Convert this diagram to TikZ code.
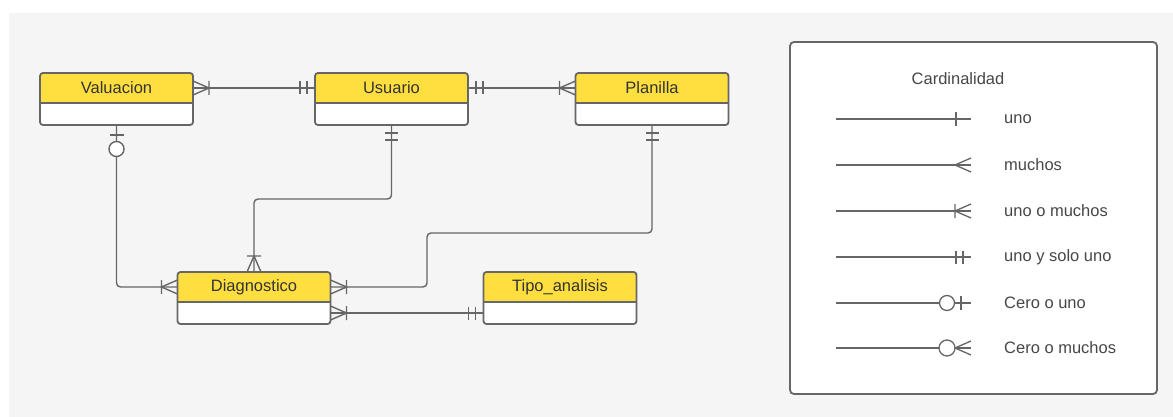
\documentclass[tikz,border=0pt]{standalone}
\usepackage{fontspec}
\setmainfont{Liberation Sans}
\usetikzlibrary{arrows.meta}
\definecolor{bgc}{HTML}{F5F5F5}
\definecolor{hdr}{HTML}{FFDF40}
\definecolor{edgec}{HTML}{666666}
\definecolor{txtc}{HTML}{333333}

% ER cardinality tips (tip at origin, pointing to +x)
\pgfdeclarearrow{
  name = ERone,
  setup code = {
    \pgfarrowssettipend{0pt}
    \pgfarrowssetlineend{0pt}
    \pgfarrowssetbackend{-16pt}
    \pgfarrowsupperhullpoint{0pt}{7pt}
    \pgfarrowsupperhullpoint{-16pt}{7pt}
  },
  drawing code = {
    \pgfpathmoveto{\pgfpoint{-15pt}{-7pt}}
    \pgfpathlineto{\pgfpoint{-15pt}{7pt}}
    \pgfusepathqstroke
  },
}
\pgfdeclarearrow{
  name = ERonlyone,
  setup code = {
    \pgfarrowssettipend{0pt}
    \pgfarrowssetlineend{0pt}
    \pgfarrowssetbackend{-16pt}
    \pgfarrowsupperhullpoint{0pt}{7pt}
    \pgfarrowsupperhullpoint{-16pt}{7pt}
  },
  drawing code = {
    \pgfpathmoveto{\pgfpoint{-8pt}{-6.5pt}}
    \pgfpathlineto{\pgfpoint{-8pt}{6.5pt}}
    \pgfpathmoveto{\pgfpoint{-15pt}{-6.5pt}}
    \pgfpathlineto{\pgfpoint{-15pt}{6.5pt}}
    \pgfusepathqstroke
  },
}
\pgfdeclarearrow{
  name = ERmany,
  setup code = {
    \pgfarrowssettipend{0pt}
    \pgfarrowssetlineend{0pt}
    \pgfarrowssetbackend{-16pt}
    \pgfarrowsupperhullpoint{0pt}{7pt}
    \pgfarrowsupperhullpoint{-16pt}{1pt}
  },
  drawing code = {
    \pgfpathmoveto{\pgfpoint{0pt}{7pt}}
    \pgfpathlineto{\pgfpoint{-16pt}{0pt}}
    \pgfpathlineto{\pgfpoint{0pt}{-7pt}}
    \pgfusepathqstroke
  },
}
\pgfdeclarearrow{
  name = ERoneormany,
  setup code = {
    \pgfarrowssettipend{0pt}
    \pgfarrowssetlineend{0pt}
    \pgfarrowssetbackend{-16pt}
    \pgfarrowsupperhullpoint{0pt}{7pt}
    \pgfarrowsupperhullpoint{-16pt}{7pt}
  },
  drawing code = {
    \pgfpathmoveto{\pgfpoint{0pt}{7pt}}
    \pgfpathlineto{\pgfpoint{-16pt}{0pt}}
    \pgfpathlineto{\pgfpoint{0pt}{-7pt}}
    \pgfpathmoveto{\pgfpoint{-16pt}{-7pt}}
    \pgfpathlineto{\pgfpoint{-16pt}{7pt}}
    \pgfusepathqstroke
  },
}
\pgfdeclarearrow{
  name = ERzeroorone,
  setup code = {
    \pgfarrowssettipend{0pt}
    \pgfarrowssetlineend{0pt}
    \pgfarrowssetbackend{-32pt}
    \pgfarrowsupperhullpoint{0pt}{7.5pt}
    \pgfarrowsupperhullpoint{-32pt}{7.5pt}
  },
  drawing code = {
    \pgfpathmoveto{\pgfpoint{-10pt}{-7pt}}
    \pgfpathlineto{\pgfpoint{-10pt}{7pt}}
    \pgfusepathqstroke
    \pgfpathcircle{\pgfpoint{-24pt}{0pt}}{7.5pt}
    \pgfsetfillcolor{white}
    \pgfusepathqfillstroke
  },
}
\pgfdeclarearrow{
  name = ERzeroormany,
  setup code = {
    \pgfarrowssettipend{0pt}
    \pgfarrowssetlineend{0pt}
    \pgfarrowssetbackend{-32pt}
    \pgfarrowsupperhullpoint{0pt}{8pt}
    \pgfarrowsupperhullpoint{-32pt}{8pt}
  },
  drawing code = {
    \pgfpathmoveto{\pgfpoint{0pt}{7pt}}
    \pgfpathlineto{\pgfpoint{-16pt}{0pt}}
    \pgfpathlineto{\pgfpoint{0pt}{-7pt}}
    \pgfusepathqstroke
    \pgfpathcircle{\pgfpoint{-24pt}{0pt}}{8pt}
    \pgfsetfillcolor{white}
    \pgfusepathqfillstroke
  },
}

\newcommand\erentity[4]{%
  \node[entbox] (#1) at (#2,#3) {};
  \begin{scope}
    \clip[rounded corners=3pt] (#1.north west) rectangle (#1.south east);
    \fill[hdr] (#1.north west) rectangle ([yshift=-30pt]#1.north east);
  \end{scope}
  \draw[boxline] ([yshift=-30pt]#1.north west) -- ([yshift=-30pt]#1.north east);
  \draw[boxline, rounded corners=3pt] (#1.north west) rectangle (#1.south east);
  \node[enttext] (#1-t) at ([yshift=-15pt]#1.north) {#4};
}

\begin{document}
\begin{tikzpicture}[x=1pt,y=-1pt,
  entbox/.style={rectangle, fill=white, minimum width=153pt, minimum height=52pt,
    inner sep=0pt, outer sep=0pt},
  boxline/.style={draw=edgec, line width=1.8pt},
  enttext/.style={font=\fontsize{16.5}{19}\selectfont, text=txtc, inner sep=0pt},
  conn/.style={draw=edgec, line width=1.4pt, rounded corners=4pt},
  legline/.style={draw=edgec, line width=1.3pt},
  legtext/.style={font=\fontsize{16.5}{19}\selectfont, text=txtc!90!white, anchor=west, inner sep=0pt},
  legbox/.style={rectangle, draw=edgec, line width=1.8pt, fill=white, rounded corners=4pt,
    minimum width=367pt, minimum height=352pt, outer sep=0pt}
]
\useasboundingbox (0,0) rectangle (1173,417);
\fill[white] (0,0) rectangle (1173,417);
\fill[bgc] (9,13) rectangle (1173,417);

% entities
\erentity{val}{116.5}{99}{Valuacion}
\erentity{usu}{391.5}{99}{Usuario}
\erentity{pla}{652}{99}{Planilla}
\erentity{dia}{254}{298}{Diagnostico}
\erentity{tip}{560}{298}{Tipo\_analisis}

% relationships
\draw[conn, {ERoneormany}-{ERonlyone}] (val.east |- val-t) -- (usu.west |- usu-t);
\draw[conn, {ERonlyone}-{ERoneormany}] (usu.east |- usu-t) -- (pla.west |- pla-t);
\draw[conn, {ERzeroorone}-{ERoneormany}] (val.south) |- (dia.west |- dia-t);
\coordinate (ubend) at (391.5,199);
\draw[conn, {ERonlyone}-{ERoneormany}] (usu.south) -- (ubend) -| (dia.north);
\coordinate (pbend) at (427,233);
\draw[conn, {ERonlyone}-{ERoneormany}] (pla.south) |- (pbend) |- (dia.east |- dia-t);
\draw[conn, {ERoneormany}-{ERonlyone}] ([yshift=-15pt]dia.east) -- ([yshift=-15pt]tip.west);

% legend
\node[legbox] (leg) at (973.5,218) {};
\node[font=\fontsize{16.5}{19}\selectfont, text=txtc!90!white, inner sep=0pt] (legt) at (958,79) {Cardinalidad};
\foreach \i/\yy/\tipname/\lab in {1/119/ERone/uno, 2/165/ERmany/muchos, 3/211/ERoneormany/uno o muchos,
  4/257/ERonlyone/uno y solo uno, 5/303/ERzeroorone/Cero o uno, 6/348/ERzeroormany/Cero o muchos}{
  \coordinate (ls\i) at (836,\yy);
  \coordinate (le\i) at (971,\yy);
  \draw[legline, -{\tipname}] (ls\i) -- (le\i);
  \node[legtext] (ll\i) at (1004,\yy) {\lab};
}
\end{tikzpicture}
\end{document}
